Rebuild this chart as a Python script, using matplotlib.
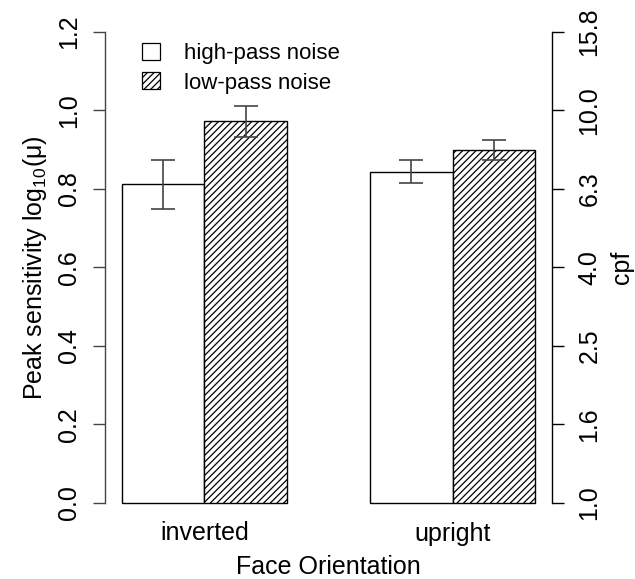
import matplotlib
matplotlib.use("Agg")
import matplotlib.pyplot as plt
import matplotlib.patches as mpatches
import numpy as np

plt.rcParams['font.family'] = ['Liberation Sans', 'DejaVu Sans']
plt.rcParams['hatch.linewidth'] = 0.9
plt.rcParams['mathtext.fontset'] = 'custom'
plt.rcParams['mathtext.rm'] = 'Liberation Sans'
plt.rcParams['mathtext.it'] = 'Liberation Sans:italic'

# Data
groups = ["inverted", "upright"]
series = ["high-pass noise", "low-pass noise"]
means = {"high-pass noise": [0.812, 0.844], "low-pass noise": [0.974, 0.899]}
err_lo = {"high-pass noise": [0.749, 0.815], "low-pass noise": [0.933, 0.873]}
err_hi = {"high-pass noise": [0.874, 0.874], "low-pass noise": [1.011, 0.925]}
yticks = [0.0, 0.2, 0.4, 0.6, 0.8, 1.0, 1.2]
cpf_labels = ["1.0", "1.6", "2.5", "4.0", "6.3", "10.0", "15.8"]

fig = plt.figure(figsize=(6.35, 5.79), dpi=100)
ax = fig.add_axes([105.2/635, 1 - 521.5/579, (551.8-105.2)/635, 508.3/579])

hatches = {"high-pass noise": None, "low-pass noise": "/////"}
grey = "#444444"
for gi, g in enumerate(groups):
    for si, s in enumerate(series):
        left = 1 + gi*3 + si
        ax.bar(left, means[s][gi], width=1, align='edge', facecolor='white',
               edgecolor='black', linewidth=1.0, hatch=hatches[s])
        xc = left + 0.5
        m = means[s][gi]
        ax.errorbar(xc, m, yerr=[[m - err_lo[s][gi]], [err_hi[s][gi] - m]],
                    fmt='none', ecolor=grey, elinewidth=1.2, capsize=8.3, capthick=1.2)

ax.set_xlim(0.8, 6.2)
ax.set_ylim(-0.048, 1.248)

for sp in ['top', 'bottom', 'right']:
    ax.spines[sp].set_visible(False)
ax.spines['left'].set_bounds(0, 1.2)
ax.spines['left'].set_color(grey)
ax.spines['left'].set_linewidth(1.0)

ax.set_yticks(yticks)
ax.set_yticklabels([f"{v:.1f}" for v in yticks], rotation=90, va='center', fontsize=18)
ax.tick_params(axis='y', length=8.4, width=1.0, color=grey, pad=9)
ax.set_xticks([2, 5])
ax.set_xticklabels(groups, fontsize=18)
ax.tick_params(axis='x', length=0, pad=0)
ax.set_xlabel("Face Orientation", fontsize=18, labelpad=7)
ax.set_ylabel("Peak sensitivity log$_{10}$(μ)", fontsize=18, labelpad=6)

ax2 = ax.twinx()
ax2.set_ylim(ax.get_ylim())
for sp in ['top', 'bottom', 'left']:
    ax2.spines[sp].set_visible(False)
ax2.spines['right'].set_bounds(0, 1.2)
ax2.spines['right'].set_linewidth(1.0)
ax2.set_yticks(yticks)
ax2.set_yticklabels(cpf_labels, rotation=90, va='center', fontsize=18)
ax2.tick_params(axis='y', length=8.4, width=1.0, pad=10)
ax2.set_ylabel("cpf", fontsize=18, labelpad=6)

handles = [mpatches.Patch(facecolor='white', edgecolor='black', linewidth=0.9, hatch=hatches[s], label=s)
           for s in series]
leg = ax.legend(handles=handles, loc='upper left', bbox_to_anchor=(0.082, 0.942),
                frameon=False, fontsize=16, handlelength=0.8, handleheight=0.8,
                handletextpad=1.1, labelspacing=0.38, borderpad=0, borderaxespad=0)

fig.savefig("out.png", dpi=100)
